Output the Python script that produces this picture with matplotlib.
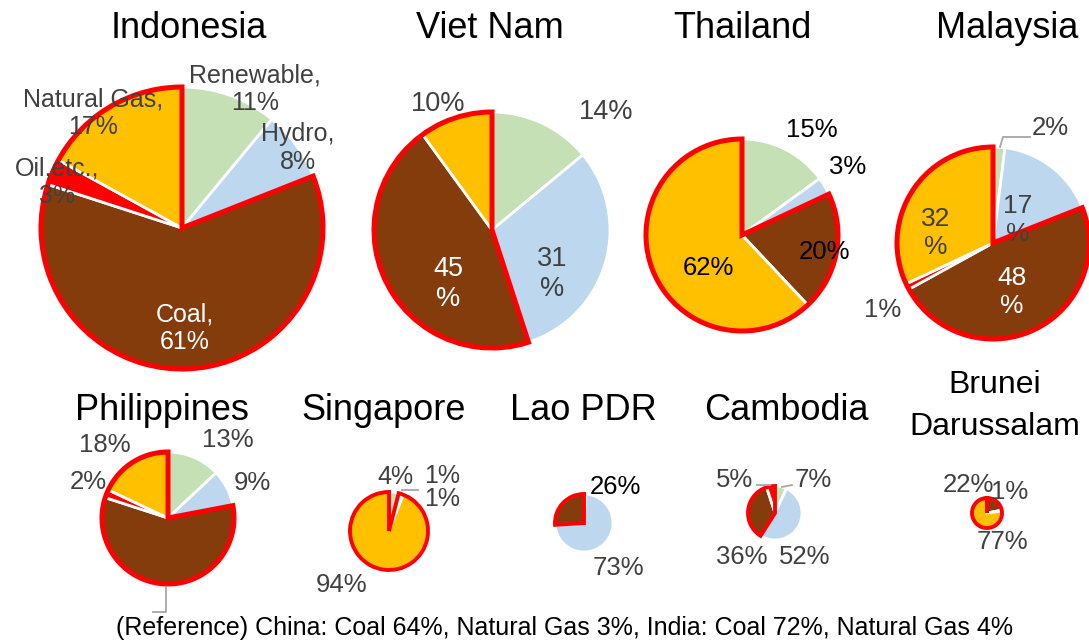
import numpy as np
import matplotlib.pyplot as plt
from matplotlib.patches import Wedge

plt.rcParams['font.family'] = ['Liberation Sans', 'DejaVu Sans']

W, H = 1089, 644

sources = ["Renewable", "Hydro", "Coal", "Oil,etc.", "Natural Gas"]
source_colors = ["#C5E0B4", "#BDD7EE", "#843C0C", "#FF0000", "#FFC000"]
is_fossil = [False, False, True, True, True]

# generation mix in %: renewable, hydro, coal, oil etc., natural gas
indonesia = [11, 8, 61, 3, 17]
viet_nam = [14, 31, 45, 0, 10]
thailand = [15, 3, 20, 0, 62]
malaysia = [2, 17, 48, 1, 32]
philippines = [13, 9, 58, 2, 18]
singapore = [4, 0, 1, 1, 94]
lao_pdr = [1, 73, 26, 0, 0]
cambodia = [7, 52, 36, 5, 0]
brunei = [0, 0, 22, 1, 77]

reference_note = ("(Reference) China: Coal 64%, Natural Gas 3%, "
                  "India: Coal 72%, Natural Gas 4%")

GRAY = "#404040"
LEADER = "#A6A6A6"

# layout in pixels (y from top): title position, pie centre, pie radius,
# labels as (slice, x, y, style, colour, size), leader polylines
layout = [
    dict(name="Indonesia", data=indonesia, title=(189, 28), c=(182, 228), r=141,
         labels=[(0, 255, 89, "name", GRAY, 18), (1, 298, 148, "name", GRAY, 18),
                 (2, 185, 328, "name", "white", 18), (3, 57, 182, "name", GRAY, 18),
                 (4, 93, 113, "name", GRAY, 18)]),
    dict(name="Viet Nam", data=viet_nam, title=(490, 28), c=(492, 230), r=118,
         labels=[(0, 606, 112, "pct", GRAY, 19.5), (1, 552, 274, "split", GRAY, 19.5),
                 (2, 448, 284, "split", "white", 19.5), (4, 438, 104, "pct", GRAY, 19.5)]),
    dict(name="Thailand", data=thailand, title=(742, 28), c=(742, 235), r=96,
         labels=[(0, 812, 130, "pct", "black", 18.5), (1, 848, 167, "pct", "black", 18.5),
                 (2, 825, 252, "pct", "black", 18.5), (4, 708, 268, "pct", "black", 18.5)]),
    dict(name="Malaysia", data=malaysia, title=(1007, 28), c=(993, 243), r=96,
         labels=[(0, 1050, 128, "pct", GRAY, 18.5), (1, 1018, 220, "split", GRAY, 19),
                 (2, 1012, 292, "split", "white", 19), (3, 883, 310, "pct", GRAY, 18.5),
                 (4, 936, 233, "split", GRAY, 19)],
         leaders=[[(1000, 147), (1003, 137), (1030, 137)]]),
    dict(name="Philippines", data=philippines, title=(162, 411), c=(168, 518), r=66,
         labels=[(0, 228, 440, "pct", GRAY, 18.5), (1, 252, 483, "pct", GRAY, 18.5),
                 (3, 88, 482, "pct", GRAY, 18.5), (4, 105, 445, "pct", GRAY, 18.5)],
         leaders=[[(166, 587), (166, 612), (153, 612)]]),
    dict(name="Singapore", data=singapore, title=(384, 411), c=(389, 531), r=39,
         labels=[(0, 395, 477, "pct", GRAY, 18), (2, 442, 499, "pct", GRAY, 18),
                 (3, 442, 476, "pct", GRAY, 18), (4, 342, 585, "pct", GRAY, 18.5)],
         leaders=[[(402, 490), (418, 490)]]),
    dict(name="Lao PDR", data=lao_pdr, title=(583, 411), c=(584, 523), r=29,
         labels=[(1, 618, 568, "pct", GRAY, 18.5), (2, 615, 487, "pct", "black", 18.5)]),
    dict(name="Cambodia", data=cambodia, title=(786, 411), c=(775, 513), r=27,
         labels=[(0, 813, 480, "pct", GRAY, 18.5), (1, 805, 557, "pct", GRAY, 18.5),
                 (2, 742, 557, "pct", GRAY, 18.5), (3, 735, 480, "pct", GRAY, 18.5)],
         leaders=[[(757, 485), (770, 485)], [(782, 487), (792, 485)]]),
    dict(name="Brunei\nDarussalam", data=brunei, title=(995, 406), c=(987, 513), r=15,
         title_size=23, title_spacing=1.5,
         labels=[(2, 968, 485, "pct", GRAY, 18.5), (3, 1010, 492, "pct", GRAY, 18.5),
                 (4, 1002, 542, "pct", GRAY, 18.5)]),
]


def label_text(idx, value, style):
    if style == "name":
        return "{},\n{}%".format(sources[idx], value)
    if style == "split":
        return "{}\n%".format(value)
    return "{}%".format(value)


fig = plt.figure(figsize=(W / 100, H / 100), dpi=100)
ax = fig.add_axes([0, 0, 1, 1])

for item in layout:
    vals = np.asarray(item["data"], dtype=float)
    cx, cy = item["c"][0], H - item["c"][1]
    r = item["r"]
    keep = vals > 0
    cols = [c for c, k in zip(source_colors, keep) if k]
    ax.pie(vals[keep], colors=cols, startangle=90, counterclock=False,
           radius=r, center=(cx, cy), frame=True,
           wedgeprops=dict(edgecolor="white", linewidth=2.0))

    # red frame around the fossil share
    total = vals.sum()
    nonfossil = vals[[not f for f in is_fossil]].sum() / total
    fossil = vals[is_fossil].sum() / total
    t2 = 90 - 360 * nonfossil
    t1 = t2 - 360 * fossil
    if fossil >= 1:
        t1 += 0.05
    lw = 3.6 if r > 50 else 2.8
    ax.add_patch(Wedge((cx, cy), r, t1, t2, fill=False, edgecolor="#FF0000",
                       linewidth=lw, zorder=3))

    for idx, x, y, style, color, size in item["labels"]:
        ax.text(x, H - y, label_text(idx, item["data"][idx], style),
                ha="center", va="center", fontsize=size, color=color,
                linespacing=1.2, zorder=5)

    for line in item.get("leaders", []):
        xs = [p[0] for p in line]
        ys = [H - p[1] for p in line]
        ax.plot(xs, ys, color=LEADER, linewidth=1.3, zorder=4)

    tx, ty = item["title"]
    ax.text(tx, H - ty, item["name"], ha="center", va="center",
            fontsize=item.get("title_size", 26), color="black",
            linespacing=item.get("title_spacing", 1.05))

ax.text(564, H - 628, reference_note, ha="center", va="center", fontsize=18,
        color="black")

ax.set_xlim(0, W)
ax.set_ylim(0, H)
ax.set_aspect("equal")
ax.axis("off")

fig.savefig("out.png", dpi=100, facecolor="white")
